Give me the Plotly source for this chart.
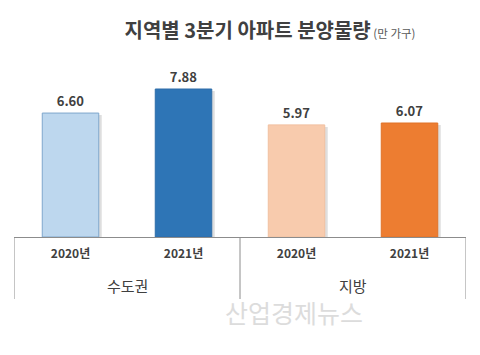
import plotly.graph_objects as go

regions = ["수도권", "수도권", "지방", "지방"]
years = ["2020년", "2021년", "2020년", "2021년"]
values = [6.60, 7.88, 5.97, 6.07]
group_labels = ["수도권", "지방"]
bar_colors = ["#BDD7EE", "#2E75B6", "#F8CBAD", "#ED7D31"]
edge_colors = ["#7FA7CD", "#2E6DA8", "#F1C0A0", "#E07328"]

W, H = 480, 355
ml, mr, mt, mb = 14, 14, 50, 118
plot_h = H - mt - mb
px_per_unit = 18.78
ymax = plot_h / px_per_unit
cat_px = (W - ml - mr) / 4

x_idx = list(range(len(values)))

fig = go.Figure()
# soft drop shadow behind the bars
shadow_dx = 3 / cat_px
shadow_dy = 2 / px_per_unit
fig.add_trace(go.Bar(
    x=x_idx, y=[v - shadow_dy for v in values], width=0.5, offset=-0.25 + shadow_dx,
    marker=dict(color="rgba(0,0,0,0.13)", line=dict(width=0)),
    showlegend=False, hoverinfo="skip",
))
fig.add_trace(go.Bar(
    x=x_idx, y=values, width=0.5, offset=-0.25,
    marker=dict(color=bar_colors, line=dict(color=edge_colors, width=1)),
    text=[f"{v:.2f}" for v in values], textposition="outside",
    textfont=dict(family="Noto Sans CJK KR", size=13, color="#404040", weight="bold"),
    cliponaxis=False, showlegend=False, hoverinfo="skip",
))

line_col = "#8C8C8C"
drop = 62 / plot_h
for xv in [-0.5, 1.5, 3.5]:
    fig.add_shape(type="line", xref="x", yref="paper", x0=xv, x1=xv, y0=0, y1=-drop,
                  line=dict(color=line_col, width=1))

for i, g in enumerate(group_labels):
    fig.add_annotation(x=0.5 + 2 * i, y=-(285 - (H - mb)) / plot_h, xref="x", yref="paper",
                       text=g, showarrow=False,
                       font=dict(family="Noto Sans CJK KR", size=15, color="#404040"),
                       yanchor="middle")

fig.add_annotation(x=(365 - ml) / (W - ml - mr), y=-(312 - (H - mb)) / plot_h,
                   xref="paper", yref="paper", text="산업경제뉴스", showarrow=False,
                   font=dict(family="Noto Sans CJK KR", size=25, color="#DCDCDC"),
                   yanchor="middle")

fig.update_layout(
    width=W, height=H,
    margin=dict(l=ml, r=mr, t=mt, b=mb),
    paper_bgcolor="white", plot_bgcolor="white",
    barmode="overlay",
    title=dict(
        text="<b>지역별 3분기 아파트 분양물량</b><span style='font-size:11.5px;color:#595959'> (만 가구)</span>",
        x=270 / W, xanchor="center", y=1 - 31 / H, yanchor="middle",
        font=dict(family="Noto Sans CJK KR", size=20, color="#404040"),
    ),
    xaxis=dict(
        tickmode="array", tickvals=x_idx, ticktext=years,
        range=[-0.5, 3.5], showline=True, linecolor=line_col, linewidth=1,
        ticks="", showgrid=False, zeroline=False,
        tickfont=dict(family="Noto Sans CJK KR", size=12, color="#404040", weight="bold"),
        ticklabelstandoff=6,
    ),
    yaxis=dict(range=[0, ymax], visible=False, showgrid=False, zeroline=False),
)

fig.write_html("out.html", config={"displayModeBar": False},
               post_script="document.body.style.margin='0';")
